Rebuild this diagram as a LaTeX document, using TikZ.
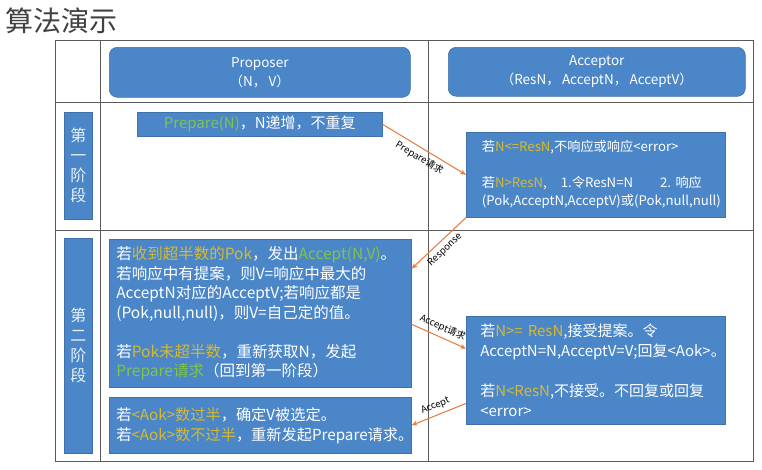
\documentclass[tikz,border=0pt]{standalone}
\usepackage{fontspec}
\setmainfont{Noto Sans CJK SC}
\usetikzlibrary{calc,arrows.meta}
\definecolor{boxblue}{RGB}{74,134,200}
\definecolor{hlgold}{RGB}{214,186,50}
\definecolor{hlgreen}{RGB}{128,196,76}
\definecolor{arrorange}{RGB}{226,130,70}
\definecolor{gridgray}{RGB}{90,90,90}
\newcommand{\gd}[1]{\textcolor{hlgold}{#1}}
\newcommand{\gr}[1]{\textcolor{hlgreen}{#1}}
\begin{document}
\begin{tikzpicture}[x=1pt,y=-1pt,
  box/.style={fill=boxblue, draw=boxblue!85!black, line width=0.6pt, text=white, anchor=north west, inner ysep=0pt, align=left},
  hdr/.style={box, rounded corners=8pt, align=center, font=\fontsize{13.5}{19}\selectfont},
  stagebox/.style={box, align=center, inner xsep=0pt, font=\fontsize{16}{20}\selectfont, text=white!88!boxblue},
  msg/.style={draw=arrorange, line width=1.1pt, -{Stealth[length=6pt,width=5pt]}},
  lbl/.style={font=\fontsize{9.5}{10}\selectfont, text=black, sloped, inner xsep=1pt, inner ysep=4pt},
  grid/.style={draw=gridgray, line width=0.9pt}]
\useasboundingbox (0,0) rectangle (762,469);
\node[anchor=west, font=\fontsize{28}{30}\selectfont, text=black!75, inner sep=0pt] (title) at (5,21) {算法演示};
% table
\draw[grid] (55,40) rectangle (753,461);
\draw[grid] (100,40) -- (100,461);
\draw[grid] (428,40) -- (428,461);
\draw[grid] (55,102) -- (753,102);
\draw[grid] (55,230) -- (753,230);
% headers
\node[hdr, minimum width=301, minimum height=50] (prop) at (109,47) {Proposer\\（N，\,V）};
\node[hdr, minimum width=297, minimum height=49] (acc) at (448,47) {Acceptor\\（ResN，\,AcceptN，\,AcceptV）};
% stage labels
\node[stagebox, minimum width=28, minimum height=107] (s1) at (64,112) {第\\一\\阶\\段};
\node[stagebox, minimum width=28, minimum height=215] (s2) at (64,238) {第\\二\\阶\\段};
% stage 1
\node[box, align=center, minimum width=245, minimum height=24, font=\fontsize{15}{18}\selectfont] (prep) at (137,112) {\gr{Prepare(N)}，N递增，不重复};
\node[box, text width=228, inner xsep=15.5, minimum height=85, font=\fontsize{13.2}{18}\selectfont] (acc1) at (466,132)
  {若\gd{N<=ResN},不响应或响应<error>\\[18pt]
   若\gd{N>ResN},\hspace*{14pt}1.令ResN=N\hspace*{27pt}2.~响应\\
   (Pok,AcceptN,AcceptV)或(Pok,null,null)};
% stage 2
\node[box, text width=288, inner xsep=7, minimum height=148, font=\fontsize{15.5}{19.5}\selectfont] (p1) at (109,239)
  {若\gd{收到超半数的Pok}，发出\gr{Accept(N,V)}。\\
   若响应中有提案，则V=响应中最大的\\
   AcceptN对应的AcceptV;若响应都是\\
   (Pok,null,null)，则V=自己定的值。\\[19.5pt]
   若\gd{Pok未超半数}，重新获取N，发起\\
   \gr{Prepare请求}（回到第一阶段）};
\node[box, text width=288, inner xsep=7, minimum height=56, font=\fontsize{15.2}{20}\selectfont] (p2) at (109,397)
  {若\gd{<Aok>数过半}，确定V被选定。\\
   若\gd{<Aok>数不过半}，重新发起Prepare请求。};
\node[box, text width=231, inner xsep=14, minimum height=108, font=\fontsize{15}{20}\selectfont] (acc2) at (466,316)
  {若\gd{N>=~ResN},接受提案。令\\
   AcceptN=N,AcceptV=V;回复<Aok>。\\[20pt]
   若\gd{N<ResN},不接受。不回复或回复\\
   <error>};
% messages
\draw[msg] (prep.east) -- node[lbl, below] (l1) {Prepare请求} (acc1.west);
\draw[msg] (acc1.south west) -- node[lbl, below] (l2) {Response} ($(p1.north east)!0.2!(p1.south east)$);
\draw[msg] ($(p1.north east)!0.574!(p1.south east)$) -- node[lbl, above] (l3) {Accept请求} ($(acc2.north west)!0.3!(acc2.south west)$);
\draw[msg] ($(acc2.north west)!0.805!(acc2.south west)$) -- node[lbl, above] (l4) {Accept} (p2.east);
\end{tikzpicture}
\end{document}
